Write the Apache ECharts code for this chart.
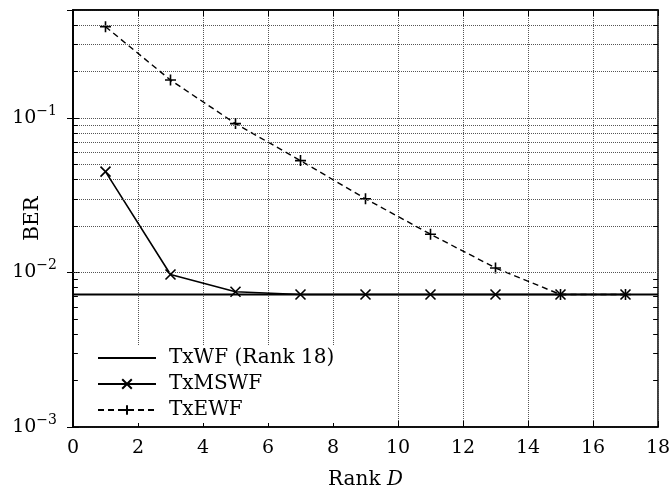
<!DOCTYPE html>
<html>
<head>
<meta charset="utf-8">
<script src="https://cdn.jsdelivr.net/npm/echarts@6/dist/echarts.min.js"></script>
<style>html,body{margin:0;padding:0;background:#fff}#c{width:672px;height:488px}</style>
</head>
<body>
<div id="c"></div>
<script>
const rankD = [1, 3, 5, 7, 9, 11, 13, 15, 17];
const txmswf = [0.045, 0.0097, 0.0075, 0.0072, 0.0072, 0.0072, 0.0072, 0.0072, 0.0072];
const txewf = [0.39, 0.176, 0.092, 0.053, 0.030, 0.0177, 0.0107, 0.0072, 0.0072];
const txwfX = [0, 18];
const txwf = [0.0072, 0.0072];
const seriesNames = ['TxWF (Rank 18)', 'TxMSWF', 'TxEWF'];
const yMinor = [0.002,0.003,0.004,0.005,0.006,0.007,0.008,0.009,
                0.02,0.03,0.04,0.05,0.06,0.07,0.08,0.09,
                0.2,0.3,0.4];
const xMin = 0, xMax = 18, xStep = 2;
const yMin = 0.001, yMax = 0.5;

const FONT = 'DejaVu Serif';
const pairs = (xs, ys) => xs.map((x, i) => [x, ys[i]]);

const gridLines = yMinor.map(v => ({ yAxis: v }));
const tickLen = 0.15;
const leftTicks = yMinor.map(v => [{ coord: [xMin, v] }, { coord: [xMin + tickLen, v] }]);
const rightTicks = yMinor.map(v => [{ coord: [xMax - tickLen, v] }, { coord: [xMax, v] }]);

const chart = echarts.init(document.getElementById('c'), null, { renderer: 'canvas' });
const axisLineStyle = { color: '#000', width: 1.5 };
chart.setOption({
  animation: false,
  backgroundColor: '#fff',
  textStyle: { fontFamily: FONT, color: '#000' },
  grid: { left: 73, right: 14, top: 10, bottom: 61, show: true, borderColor: '#000', borderWidth: 1.5,
          containLabel: false, outerBoundsMode: 'none' },
  legend: {
    data: seriesNames,
    orient: 'vertical',
    left: 85, top: 345,
    backgroundColor: '#fff',
    padding: [3, 8, 3, 12],
    itemWidth: 58, itemHeight: 12, itemGap: 6,
    textStyle: { fontFamily: FONT, fontSize: 20, color: '#000', padding: [0, 0, 0, 8] },
    z: 10
  },
  xAxis: [{
    type: 'value', min: xMin, max: xMax, interval: xStep,
    name: 'Rank {i|D}', nameLocation: 'middle', nameGap: 43, nameMoveOverlap: false,
    nameTextStyle: { fontFamily: FONT, fontSize: 20, color: '#000',
      rich: { i: { fontFamily: FONT, fontStyle: 'italic', fontSize: 20, color: '#000' } } },
    axisLine: { lineStyle: axisLineStyle },
    axisTick: { inside: true, length: 6, lineStyle: { color: '#000', width: 1 } },
    axisLabel: { fontFamily: FONT, fontSize: 19, color: '#000', margin: 12 },
    splitLine: { show: true, lineStyle: { type: 'dotted', color: '#555', width: 1 } }
  }, {
    type: 'value', min: xMin, max: xMax, interval: xStep, position: 'top',
    axisLine: { lineStyle: axisLineStyle },
    axisTick: { inside: true, length: 6, lineStyle: { color: '#000', width: 1 } },
    axisLabel: { show: false }, splitLine: { show: false }
  }],
  yAxis: [{
    type: 'log', logBase: 10, min: yMin, max: yMax,
    name: 'BER', nameLocation: 'middle', nameGap: 30, nameMoveOverlap: false,
    nameTextStyle: { fontFamily: FONT, fontSize: 20, color: '#000' },
    axisLine: { lineStyle: axisLineStyle },
    axisTick: { inside: true, length: 6, lineStyle: { color: '#000', width: 1 } },
    axisLabel: {
      fontFamily: FONT, fontSize: 19, color: '#000', margin: 16,
      showMaxLabel: false,
      formatter: v => {
        const l = Math.log10(v), e = Math.round(l);
        if (Math.abs(l - e) > 1e-6) return '';
        return '10{s|' + (e < 0 ? '\u2212' + (-e) : e) + '}';
      },
      rich: { s: { fontFamily: FONT, fontSize: 14, color: '#000', padding: [0, 0, 14, 0] } }
    },
    splitLine: { show: true, lineStyle: { type: 'dotted', color: '#555', width: 1 } }
  }, {
    type: 'log', logBase: 10, min: yMin, max: yMax, position: 'right',
    axisLine: { lineStyle: axisLineStyle },
    axisTick: { inside: true, length: 6, lineStyle: { color: '#000', width: 1 } },
    axisLabel: { show: false }, splitLine: { show: false }
  }],
  series: [
    {
      name: '_grid', type: 'line', data: [], z: 1, silent: true,
      markLine: {
        silent: true, symbol: 'none', animation: false,
        label: { show: false },
        lineStyle: { type: 'dotted', color: '#555', width: 1 },
        data: gridLines
      }
    },
    {
      name: '_ticks', type: 'line', data: [], z: 2, silent: true,
      markLine: {
        silent: true, symbol: 'none', animation: false,
        label: { show: false },
        lineStyle: { type: 'solid', color: '#000', width: 1 },
        data: leftTicks.concat(rightTicks)
      }
    },
    {
      name: seriesNames[0], type: 'line', z: 3,
      data: pairs(txwfX, txwf),
      symbol: 'path://M0,0L1,1', symbolSize: 2, showSymbol: false, color: '#000',
      itemStyle: { color: 'rgba(0,0,0,0)', borderColor: 'rgba(0,0,0,0)', borderWidth: 0 },
      lineStyle: { color: '#000', width: 2, type: 'solid' }
    },
    {
      name: seriesNames[1], type: 'line', z: 4,
      data: pairs(rankD, txmswf),
      symbol: 'path://M0,0L10,10M0,10L10,0', symbolSize: 10, color: '#000',
      itemStyle: { color: '#000', borderColor: '#000', borderWidth: 1.6 },
      lineStyle: { color: '#000', width: 1.6, type: 'solid' }
    },
    {
      name: seriesNames[2], type: 'line', z: 4,
      data: pairs(rankD, txewf),
      symbol: 'path://M5,0L5,10M0,5L10,5', symbolSize: 11, color: '#000',
      itemStyle: { color: '#000', borderColor: '#000', borderWidth: 1.6 },
      lineStyle: { color: '#000', width: 1.4, type: [6, 4] }
    }
  ]
});
</script>
</body>
</html>
